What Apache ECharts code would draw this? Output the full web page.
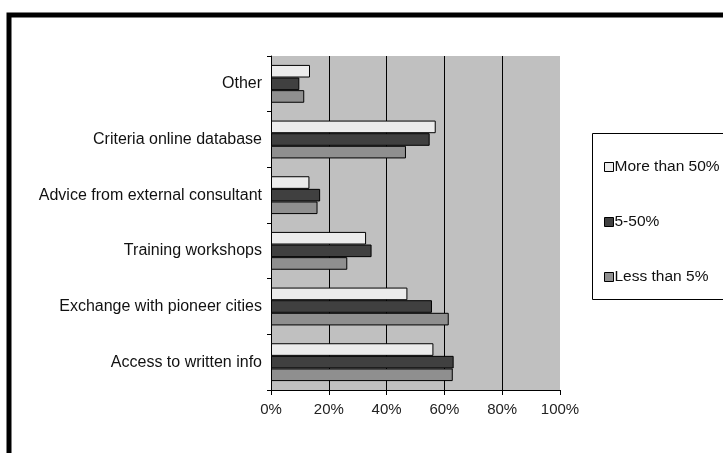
<!DOCTYPE html>
<html>
<head>
<meta charset="utf-8">
<script src="https://cdn.jsdelivr.net/npm/echarts@6/dist/echarts.min.js"></script>
<style>
  html, body { margin: 0; padding: 0; background: #fff; }
  #chart { width: 723px; height: 453px; }
</style>
</head>
<body>
<div id="chart"></div>
<script>
// categories listed top to bottom
const categories = [
  'Other',
  'Criteria online database',
  'Advice from external consultant',
  'Training workshops',
  'Exchange with pioneer cities',
  'Access to written info'
]
const seriesNames = ['More than 50%', '5-50%', 'Less than 5%']
const moreThan50 = [13.5, 57, 13.3, 32.9, 47.2, 56.2]
const from5to50 = [9.8, 54.9, 17, 34.8, 55.7, 63.2]
const lessThan5 = [11.5, 46.7, 16.1, 26.4, 61.5, 62.9]
const xTicks = [0, 20, 40, 60, 80, 100]

const colors = ['#ececec', '#404040', '#8f8f8f']
const values = [moreThan50, from5to50, lessThan5]

let chart = echarts.init(document.getElementById('chart'))

let series = seriesNames.map(function (name, i) {
  return {
    name: name,
    type: 'bar',
    data: values[i],
    barGap: '0%',
    barCategoryGap: '32%',
    itemStyle: { color: colors[i], borderColor: '#000', borderWidth: 1 },
    animation: false
  }
})

let option = {
  animation: false,
  textStyle: { fontFamily: 'Liberation Sans, Arial, sans-serif' },
  grid: {
    left: 271, top: 56, width: 289, height: 334,
    show: true, backgroundColor: '#c0c0c0', borderWidth: 0
  },
  legend: {
    orient: 'vertical',
    left: 599, top: 154,
    itemGap: 39,
    itemWidth: 9, itemHeight: 9,
    icon: 'rect',
    textStyle: { fontSize: 15.5, color: '#111', padding: [0, 0, 0, -4] },
    data: seriesNames,
    itemStyle: { borderColor: '#000', borderWidth: 1 }
  },
  xAxis: {
    type: 'value',
    min: xTicks[0], max: xTicks[xTicks.length - 1], interval: 20,
    axisLine: { show: true, lineStyle: { color: '#000' } },
    axisTick: { show: true, length: 5, lineStyle: { color: '#000' } },
    axisLabel: { formatter: '{value}%', fontSize: 15, color: '#222', margin: 12 },
    splitLine: { show: true, showMinLine: false, showMaxLine: false, lineStyle: { color: '#000', width: 1 } }
  },
  yAxis: {
    type: 'category',
    data: categories,
    inverse: true,
    axisLine: { show: true, lineStyle: { color: '#000' } },
    axisTick: { show: true, length: 4, lineStyle: { color: '#000' } },
    axisLabel: { fontSize: 16, color: '#111', margin: 9 }
  },
  graphic: [
    { type: 'rect', shape: { x: 9, y: 15, width: 800, height: 600 }, style: { fill: null, stroke: '#000', lineWidth: 5 }, silent: true },
    { type: 'rect', shape: { x: 592.5, y: 133.5, width: 200, height: 166 }, style: { fill: null, stroke: '#000', lineWidth: 1 }, silent: true }
  ],
  series: series
}

chart.setOption(option)
window.onresize = function () {
  chart.resize()
}
</script>
</body>
</html>
